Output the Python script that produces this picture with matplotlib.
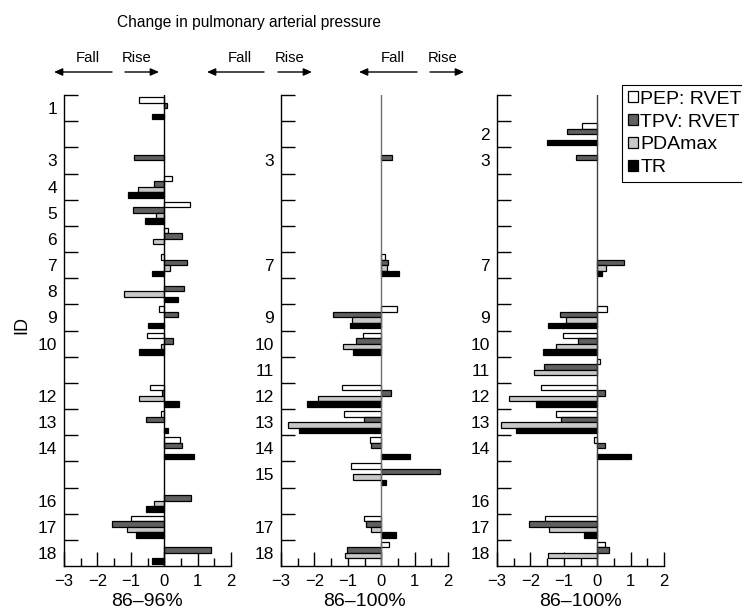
import numpy as np
import matplotlib
matplotlib.use("Agg")
import matplotlib.pyplot as plt
from matplotlib.ticker import FixedLocator, NullFormatter, FixedFormatter
from matplotlib import font_manager

nan = np.nan
ids = list(range(1, 19))
series_names = ["PEP: RVET", "TPV: RVET", "PDAmax", "TR"]
series_colors = ["white", "#606060", "#c8c8c8", "black"]

# Panel 1: 86-96%
p1_pep = [-0.75, nan, nan, 0.22, 0.76, 0.10, -0.09, nan, -0.17, -0.52, nan, -0.43, -0.11, 0.46, nan, nan, -1.00, nan]
p1_tpv = [0.07, nan, -0.90, -0.32, -0.94, 0.54, 0.69, 0.58, 0.40, 0.26, nan, -0.07, -0.55, 0.52, nan, 0.80, -1.56, 1.40]
p1_pda = [nan, nan, nan, -0.77, -0.25, -0.34, 0.16, -1.21, nan, -0.11, nan, -0.74, nan, nan, nan, -0.30, -1.11, nan]
p1_tr = [-0.38, nan, nan, -1.07, -0.56, nan, -0.37, 0.42, -0.49, -0.74, nan, 0.45, 0.10, 0.88, nan, -0.54, -0.83, -0.38]
p1_labels = [1, 3, 4, 5, 6, 7, 8, 9, 10, 12, 13, 14, 16, 17, 18]

# Panel 2: 86-100%
p2_pep = [nan, nan, nan, nan, nan, nan, 0.10, nan, 0.47, -0.53, nan, -1.18, -1.11, -0.34, -0.90, nan, -0.51, 0.24]
p2_tpv = [nan, nan, 0.33, nan, nan, nan, 0.20, nan, -1.43, -0.76, nan, 0.28, -0.51, -0.30, 1.75, nan, -0.46, -1.01]
p2_pda = [nan, nan, nan, nan, nan, nan, 0.17, nan, -0.88, -1.14, nan, -1.88, -2.80, nan, -0.83, nan, -0.32, -1.08]
p2_tr = [nan, nan, nan, nan, nan, nan, 0.53, nan, -0.93, -0.83, nan, -2.22, -2.46, 0.85, 0.13, nan, 0.45, nan]
p2_labels = [3, 7, 9, 10, 11, 12, 13, 14, 15, 17, 18]

# Panel 3: 86-100%
p3_pep = [nan, -0.45, nan, nan, nan, nan, nan, nan, 0.30, -1.01, 0.09, -1.68, -1.23, -0.11, nan, nan, -1.55, 0.24]
p3_tpv = [nan, -0.90, -0.63, nan, nan, nan, 0.81, nan, -1.11, -0.58, -1.60, 0.22, -1.07, 0.24, nan, nan, -2.03, 0.34]
p3_pda = [nan, nan, nan, nan, nan, nan, 0.25, nan, -0.94, -1.23, -1.89, -2.63, -2.87, nan, nan, nan, -1.44, -1.48]
p3_tr = [nan, -1.49, nan, nan, nan, nan, 0.15, nan, -1.47, -1.62, nan, -1.83, -2.42, 1.00, nan, nan, -0.41, nan]
p3_labels = [2, 3, 7, 9, 10, 11, 12, 13, 14, 16, 17, 18]

panel_xlabels = ["86\u201396%", "86\u2013100%", "86\u2013100%"]
title_text = "Change in pulmonary arterial pressure"

names = {f.name for f in font_manager.fontManager.ttflist}
REG = "Liberation Sans"
NARROW = "Liberation Sans Narrow" if "Liberation Sans Narrow" in names else "Liberation Sans"
narrow_scale = 1.0 if NARROW == "Liberation Sans Narrow" else 0.86

plt.rcParams["font.family"] = [REG, "DejaVu Sans"]

W, H = 742, 616
fig = plt.figure(figsize=(W / 100, H / 100), dpi=100)

def fx(px):
    return px / W

def fy(py):
    return 1 - py / H

panels = [
    ([p1_pep, p1_tpv, p1_pda, p1_tr], p1_labels, 64, "black"),
    ([p2_pep, p2_tpv, p2_pda, p2_tr], p2_labels, 281, "#707070"),
    ([p3_pep, p3_tpv, p3_pda, p3_tr], p3_labels, 497, "#404040"),
]

ax_top, ax_bot = 95, 566
bar_h = 0.21
handles = None
for pi, (series, labels, left, zc) in enumerate(panels):
    ax = fig.add_axes([fx(left), fy(ax_bot), 167 / W, (ax_bot - ax_top) / H])
    hs = []
    for k, vals in enumerate(series):
        v = np.array(vals, dtype=float)
        y = np.array(ids, dtype=float) + (k - 1.5) * bar_h
        m = ~np.isnan(v)
        b = ax.barh(y[m], v[m], height=bar_h, color=series_colors[k],
                    edgecolor="black", linewidth=0.9, zorder=3)
        hs.append(b)
    if handles is None:
        handles = hs
    ax.axvline(0, color=zc, lw=1.0, zorder=4)
    ax.set_xlim(-3, 2)
    ax.set_ylim(18.5, 0.5)
    for s in ("top", "right"):
        ax.spines[s].set_visible(False)
    for s in ("left", "bottom"):
        ax.spines[s].set_linewidth(1.0)
    # x ticks
    ax.set_xticks([-3, -2, -1, 0, 1, 2])
    ax.set_xticks([-2.5, -1.5, -0.5, 0.5, 1.5], minor=True)
    ax.tick_params(axis="x", which="major", direction="in", length=10, width=1,
                   labelsize=12, pad=6)
    ax.tick_params(axis="x", which="minor", direction="in", length=6, width=1)
    # y ticks: boundaries (major, no labels) and labels at centers (minor)
    ax.yaxis.set_major_locator(FixedLocator(np.arange(0.5, 18.0, 1.0)))
    ax.yaxis.set_major_formatter(NullFormatter())
    ax.yaxis.set_minor_locator(FixedLocator(labels))
    ax.yaxis.set_minor_formatter(FixedFormatter([str(l) for l in labels]))
    ax.tick_params(axis="y", which="major", direction="in", length=10, width=1)
    ax.tick_params(axis="y", which="minor", length=0, labelsize=12.5, pad=5)
    ax.set_xlabel(panel_xlabels[pi], fontsize=14, labelpad=3)
    ax.set_facecolor("none")

# title and Fall / Rise arrows
fig.text(fx(249), fy(23), title_text, ha="center", va="center",
         fontsize=13 * narrow_scale, family=[NARROW, "DejaVu Sans"])
fall_x = [88, 240, 393]
rise_x = [137, 290, 443]
larrow = [(112, 54), (264, 207), (417, 359)]
rarrow = [(125, 159), (278, 312), (430, 464)]
for i in range(3):
    fig.text(fx(fall_x[i]), fy(58), "Fall", ha="center", va="center",
             fontsize=12.5 * narrow_scale, family=[NARROW, "DejaVu Sans"])
    fig.text(fx(rise_x[i]), fy(58), "Rise", ha="center", va="center",
             fontsize=12.5 * narrow_scale, family=[NARROW, "DejaVu Sans"])
    for (x0, x1) in (larrow[i], rarrow[i]):
        fig.add_artist(matplotlib.patches.FancyArrowPatch(
            (fx(x0), fy(72)), (fx(x1), fy(72)), transform=fig.transFigure,
            arrowstyle="-|>,head_length=5,head_width=2.2", mutation_scale=1,
            color="black", lw=1.0, shrinkA=0, shrinkB=0))

fig.text(fx(22), fy(325), "ID", rotation=90, ha="center", va="center", fontsize=13)

leg = fig.legend(handles, series_names, loc="upper left",
                 bbox_to_anchor=(fx(622), fy(85)), bbox_transform=fig.transFigure,
                 fontsize=14, frameon=True, fancybox=False, framealpha=1,
                 edgecolor="black", handlelength=0.5, handleheight=0.5,
                 handletextpad=0.15, labelspacing=0.3, borderpad=0.3,
                 borderaxespad=0)
leg.get_frame().set_linewidth(0.8)

fig.savefig("out.png", dpi=100)
